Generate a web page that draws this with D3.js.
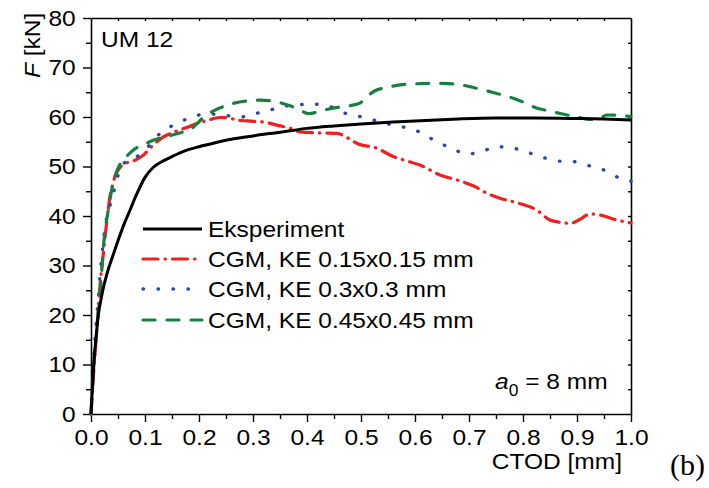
<!DOCTYPE html>
<html>
<head>
<meta charset="utf-8">
<script src="https://cdn.jsdelivr.net/npm/d3@7"></script>
<style>
  html, body { margin: 0; padding: 0; background: #fff; }
  svg { display: block; }
  text { font-family: "Liberation Sans", Arial, sans-serif; fill: #000; }
  text.serif { font-family: "Liberation Serif", "Times New Roman", serif; }
</style>
</head>
<body>
<div id="chart"></div>
<script>
// Force F [kN] vs crack tip opening displacement CTOD [mm], specimen UM 12

const expCtod = [0, 0.002, 0.004, 0.006, 0.009, 0.013, 0.02, 0.03, 0.04, 0.05, 0.06, 0.07, 0.085, 0.1, 0.115, 0.13, 0.15, 0.175, 0.2, 0.23, 0.26, 0.29, 0.32, 0.35, 0.4, 0.45, 0.5, 0.56, 0.62, 0.68, 0.75, 0.82, 0.9, 0.95, 1.0];
const expForce = [0, 4, 8, 11.5, 15, 19.5, 24, 28.5, 31.8, 35, 38, 40.6, 44.5, 47.8, 49.8, 50.9, 52, 53.2, 54, 54.8, 55.5, 56, 56.5, 56.9, 57.7, 58.2, 58.6, 59, 59.3, 59.6, 59.8, 59.8, 59.7, 59.6, 59.4];

const cgm015Ctod = [0, 0.004, 0.008, 0.012, 0.017, 0.022, 0.026, 0.031, 0.035, 0.04, 0.044, 0.05, 0.057, 0.065, 0.078, 0.09, 0.097, 0.105, 0.112, 0.122, 0.134, 0.15, 0.165, 0.18, 0.196, 0.215, 0.239, 0.255, 0.27, 0.29, 0.319, 0.35, 0.37, 0.387, 0.42, 0.455, 0.475, 0.492, 0.529, 0.56, 0.585, 0.609, 0.646, 0.683, 0.71, 0.733, 0.76, 0.788, 0.825, 0.85, 0.87, 0.887, 0.905, 0.924, 0.943, 0.97, 1.0];
const cgm015Force = [0, 7, 13, 19, 26.4, 31.5, 35.8, 40.5, 43.9, 46.3, 47.9, 49.2, 50.2, 50.7, 51.1, 51.8, 52.3, 53.2, 54, 55, 56, 56.8, 57.4, 58, 58.7, 59.3, 59.9, 59.8, 59.4, 59.2, 59, 58.2, 57.7, 57, 56.8, 56.7, 55.8, 54.7, 53.7, 52, 51.1, 50.3, 48.3, 47.1, 46, 44.6, 43.5, 42.7, 41.2, 39.2, 38.7, 38.5, 39.3, 40.4, 40.2, 39.3, 38.6];

const cgm03Ctod = [0, 0.002, 0.004, 0.007, 0.01, 0.014, 0.017, 0.021, 0.026, 0.032, 0.038, 0.046, 0.054, 0.065, 0.078, 0.092, 0.106, 0.117, 0.128, 0.143, 0.159, 0.171, 0.183, 0.2, 0.214, 0.239, 0.257, 0.271, 0.285, 0.3, 0.315, 0.331, 0.356, 0.385, 0.412, 0.44, 0.467, 0.498, 0.526, 0.554, 0.581, 0.612, 0.64, 0.668, 0.696, 0.723, 0.752, 0.782, 0.81, 0.838, 0.865, 0.893, 0.924, 0.952, 0.98, 1.0];
const cgm03Force = [0, 4.5, 9.6, 14.5, 19, 24, 28.5, 33, 37.8, 40.8, 43.2, 46.5, 49.6, 51, 51.6, 52.5, 54, 55.4, 56.7, 57.8, 58.7, 59.3, 59.9, 60.4, 60.7, 60.4, 60.2, 59.9, 60.1, 60.5, 61, 61.4, 62.1, 62.5, 62.6, 62.2, 60.9, 60.1, 59.3, 58.5, 57.9, 56.8, 55, 53.7, 52.5, 53, 54, 53.7, 52.8, 51.8, 51.1, 51, 50.1, 49.2, 47.6, 47];

const cgm045Ctod = [0, 0.002, 0.004, 0.007, 0.01, 0.014, 0.018, 0.023, 0.028, 0.032, 0.037, 0.041, 0.047, 0.053, 0.06, 0.07, 0.078, 0.09, 0.103, 0.115, 0.128, 0.14, 0.152, 0.171, 0.185, 0.196, 0.205, 0.214, 0.23, 0.245, 0.265, 0.294, 0.313, 0.331, 0.35, 0.37, 0.387, 0.402, 0.42, 0.436, 0.461, 0.48, 0.498, 0.51, 0.526, 0.55, 0.572, 0.6, 0.628, 0.65, 0.671, 0.69, 0.714, 0.75, 0.782, 0.805, 0.825, 0.85, 0.869, 0.9, 0.924, 0.94, 0.955, 0.98, 1.0];
const cgm045Force = [0, 4, 8, 12.3, 16, 21, 26, 33.8, 38.5, 41.2, 44.5, 46.6, 48.8, 50.3, 51.3, 52.5, 53.3, 54.1, 54.7, 55.3, 55.7, 56, 56.4, 57, 57.6, 58.6, 59.6, 60.4, 61.4, 62.1, 62.8, 63.3, 63.4, 63.3, 62.9, 62.2, 61.4, 60.7, 61, 61.5, 62, 62.3, 62.8, 64, 65.3, 66, 66.5, 66.7, 66.8, 66.8, 66.7, 66.4, 65.8, 64.8, 63.8, 62.8, 61.8, 61.2, 60.7, 60, 59.5, 59.6, 60.4, 60.3, 60.1];

const seriesNames = ["Eksperiment", "CGM, KE 0.15x0.15 mm", "CGM, KE 0.3x0.3 mm", "CGM, KE 0.45x0.45 mm"];
const xTicks = [0, 0.1, 0.2, 0.3, 0.4, 0.5, 0.6, 0.7, 0.8, 0.9, 1.0];
const yTicks = [0, 10, 20, 30, 40, 50, 60, 70, 80];

const W = 709, H = 488;
const plot = { left: 91, right: 631, top: 18, bottom: 414 };
const STRETCH = 1.09;      // text is drawn slightly wide
const FS = 22.5;

const svg = d3.select("#chart").append("svg").attr("width", W).attr("height", H);

const x = d3.scaleLinear().domain([0, 1]).range([plot.left, plot.right]);
const y = d3.scaleLinear().domain([0, 80]).range([plot.bottom, plot.top]);

const xMinor = d3.range(0.05, 1, 0.1);
const yMinor = d3.range(5, 80, 10);
const xAll = d3.range(0.05, 1.0, 0.05);
const yAll = d3.range(5, 80, 5);

function styleAxis(g) {
  g.selectAll("path.domain").attr("stroke", "#000").attr("stroke-width", 1.6);
  g.selectAll(".tick line").attr("stroke", "#000").attr("stroke-width", 1.4);
  g.selectAll(".tick text")
    .attr("font-size", FS)
    .attr("fill", "#000")
    .attr("transform", `scale(${STRETCH},1)`);
}

// Bottom axis: major labelled ticks and minor ticks pointing out
svg.append("g").attr("transform", `translate(0,${plot.bottom})`)
  .call(d3.axisBottom(x).tickValues(xTicks).tickFormat(d3.format(".1f"))
    .tickSizeInner(8).tickSizeOuter(0).tickPadding(7))
  .call(styleAxis);
svg.append("g").attr("transform", `translate(0,${plot.bottom})`)
  .call(d3.axisBottom(x).tickValues(xMinor).tickFormat("").tickSizeInner(5).tickSizeOuter(0))
  .call(g => g.select("path.domain").remove())
  .call(styleAxis);

// Left axis
svg.append("g").attr("transform", `translate(${plot.left},0)`)
  .call(d3.axisLeft(y).tickValues(yTicks).tickFormat(d3.format("d"))
    .tickSizeInner(8).tickSizeOuter(0).tickPadding(6))
  .call(styleAxis);
svg.append("g").attr("transform", `translate(${plot.left},0)`)
  .call(d3.axisLeft(y).tickValues(yMinor).tickFormat("").tickSizeInner(5).tickSizeOuter(0))
  .call(g => g.select("path.domain").remove())
  .call(styleAxis);

// Top and right axes: short inward ticks, no labels
svg.append("g").attr("transform", `translate(0,${plot.top})`)
  .call(d3.axisTop(x).tickValues(xAll).tickFormat("").tickSizeInner(-3).tickSizeOuter(0))
  .call(styleAxis);
svg.append("g").attr("transform", `translate(${plot.right},0)`)
  .call(d3.axisRight(y).tickValues(yAll).tickFormat("").tickSizeInner(-3).tickSizeOuter(0))
  .call(styleAxis);

// Curves
const styles = [
  { color: "#000000", dash: null, width: 3 },
  { color: "#f0201e", dash: "15,7,0.5,7", width: 3.2 },
  { color: "#2b48a6", dash: "0.5,14.5", width: 3.4 },
  { color: "#178040", dash: "12,12", width: 3.2 }
];
const data = [
  d3.zip(expCtod, expForce),
  d3.zip(cgm015Ctod, cgm015Force),
  d3.zip(cgm03Ctod, cgm03Force),
  d3.zip(cgm045Ctod, cgm045Force)
];

const line = d3.line().x(d => x(d[0])).y(d => y(d[1])).curve(d3.curveMonotoneX);

// draw the simulations first, experiment on top
[1, 2, 3, 0].forEach(i => {
  const s = styles[i];
  svg.append("path")
    .datum(data[i])
    .attr("d", line)
    .attr("fill", "none")
    .attr("stroke", s.color)
    .attr("stroke-width", s.width)
    .attr("stroke-linecap", s.dash ? "round" : "butt")
    .attr("stroke-linejoin", "round")
    .attr("stroke-dasharray", s.dash);
});

// Text helper: stretched horizontally around the anchor point
function label(px, py, str, anchor, size) {
  return svg.append("text")
    .attr("transform", `translate(${px},${py}) scale(${STRETCH},1)`)
    .attr("text-anchor", anchor || "start")
    .attr("font-size", size || FS)
    .text(str);
}

// Legend
const legendX0 = 143, legendX1 = 202, legendY = [229, 259, 289, 320];
seriesNames.forEach((name, i) => {
  const s = styles[i];
  svg.append("line")
    .attr("x1", legendX0).attr("x2", legendX1)
    .attr("y1", legendY[i]).attr("y2", legendY[i])
    .attr("stroke", s.color)
    .attr("stroke-width", s.width)
    .attr("stroke-linecap", s.dash ? "round" : "butt")
    .attr("stroke-dasharray", s.dash);
  label(208, legendY[i] + 8, name);
});

// Annotations
label(101, 47, "UM 12");

const a0 = label(495, 389, "");
a0.append("tspan").attr("font-style", "italic").text("a");
a0.append("tspan").attr("font-size", 16).attr("dy", 7).text("0");
a0.append("tspan").attr("dy", -7).text(" = 8 mm");

// Axis titles
const yTitle = svg.append("text")
  .attr("transform", `translate(39.5,78) rotate(-90) scale(${STRETCH},1)`)
  .attr("text-anchor", "start")
  .attr("font-size", FS);
yTitle.append("tspan").attr("font-style", "italic").text("F");
yTitle.append("tspan").text(" [kN]");

label(622, 469, "CTOD [mm]", "end");

// Panel tag
svg.append("text")
  .attr("class", "serif")
  .attr("x", 705).attr("y", 475)
  .attr("text-anchor", "end")
  .attr("font-size", 30)
  .text("(b)");
</script>
</body>
</html>
